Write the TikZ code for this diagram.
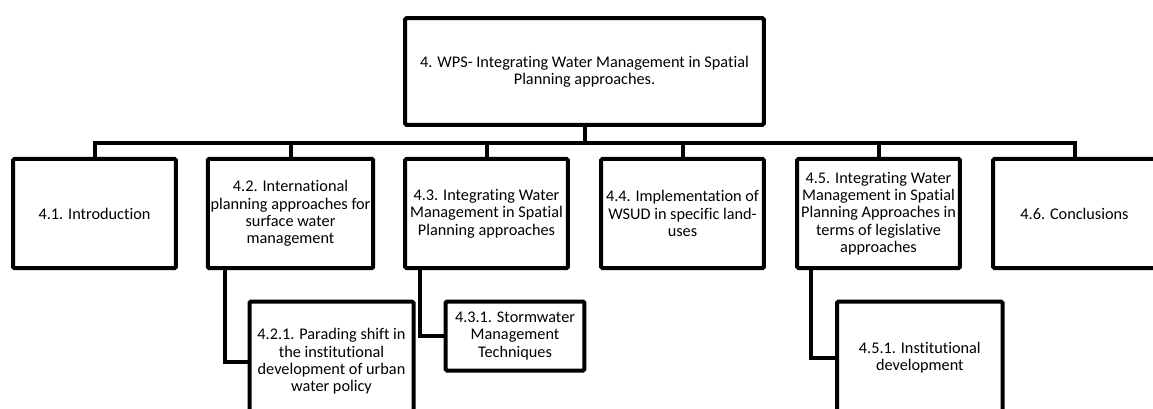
\documentclass[tikz,border=0pt]{standalone}
\usepackage{fontspec}
\setmainfont[Ligatures=NoCommon]{Carlito}
\usetikzlibrary{positioning}
\begin{document}
\begin{tikzpicture}[x=0.75pt,y=-0.75pt,
	box/.style={rectangle,draw,line width=3pt,rounded corners=1pt,align=center,inner sep=2pt,font=\fontsize{12.2pt}{13pt}\selectfont},
	section/.style={box,minimum width=122pt,minimum height=82pt},
	link/.style={draw,line width=3pt},
	level 1/.style={sibling distance=147pt},
	level distance=106.5pt,
	edge from parent/.style={link},
	edge from parent path={(\tikzparentnode.south) -- ++(0,-12pt) -| (\tikzchildnode.north)}]
	\useasboundingbox (0,0) rectangle (1153,408);
	\clip (0,0) rectangle (1153,408);
	\node [box,minimum width=269pt,minimum height=80pt] (wps) at (584.5,71.5) {4. WPS- Integrating Water Management in Spatial\\Planning approaches.}
	child {node [section] (sec41) {4.1. Introduction}}
	child {node [section] (sec42) {4.2. International\\planning approaches for\\surface water\\management}}
	child {node [section] (sec43) {4.3. Integrating Water\\Management in Spatial\\Planning approaches}}
	child {node [section] (sec44) {4.4. Implementation of\\WSUD in specific land-\\uses}}
	child {node [section] (sec45) {4.5. Integrating Water\\Management in Spatial\\Planning Approaches in\\terms of legislative\\approaches}}
	child {node [section] (sec46) {4.6. Conclusions}};
	\node [box,minimum width=123pt,minimum height=90pt,below=22pt of sec42,xshift=30.75pt] (sec421) {4.2.1. Parading shift in\\the institutional\\development of urban\\water policy};
	\node [box,minimum width=104pt,minimum height=51.75pt,below=22pt of sec43,xshift=21.4pt] (sec431) {4.3.1. Stormwater\\Management\\Techniques};
	\node [box,minimum width=124pt,minimum height=84pt,below=22pt of sec45,xshift=31pt] (sec451) {4.5.1. Institutional\\development};
	\draw [link] ([xshift=-17pt]sec421.west |- sec42.south) |- (sec421.west);
	\draw [link] ([xshift=-18pt]sec431.west |- sec43.south) |- (sec431.west);
	\draw [link] ([xshift=-18pt]sec451.west |- sec45.south) |- (sec451.west);
\end{tikzpicture}
\end{document}
